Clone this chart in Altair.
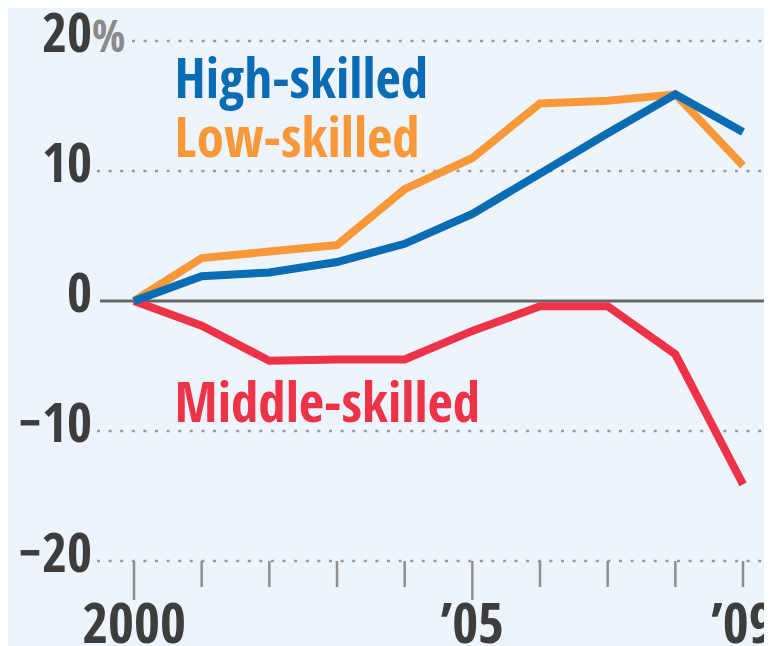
import altair as alt
import pandas as pd

years = [2000, 2001, 2002, 2003, 2004, 2005, 2006, 2007, 2008, 2009]
high_skilled = [0, 1.9, 2.2, 3.0, 4.4, 6.7, 9.8, 12.9, 15.9, 13.0]
low_skilled = [0, 3.3, 3.8, 4.3, 8.6, 11.0, 15.2, 15.4, 15.9, 10.4]
middle_skilled = [0, -1.9, -4.6, -4.5, -4.5, -2.3, -0.4, -0.4, -4.1, -14.1]

series_names = ["Middle-skilled", "Low-skilled", "High-skilled"]
series_colors = ["#ee3248", "#f89838", "#0a6cb4"]

y_ticks = [20, 10, 0, -10, -20]
y_tick_labels = ["20", "10", "0", "\u221210", "\u221220"]
x_label_years = [2000, 2005, 2009]
x_labels = ["2000", "\u201905", "\u201909"]

# series label anchors (data units)
label_years = [2000.6, 2000.6, 2000.6]
label_values = [-9.3, 11.1, 15.65]

FONT = "Open Sans Condensed, Liberation Sans, sans-serif"
BG = "#eef4fc"
LABEL_COLOR = "#3d3d3d"

W, H = 667, 638
xs = alt.Scale(domain=[1999.453, 2009.31], nice=False, zero=False)
ys = alt.Scale(domain=[-26.538, 22.538], nice=False, zero=False)

rows = []
for name, vals in zip(["High-skilled", "Low-skilled", "Middle-skilled"],
                      [high_skilled, low_skilled, middle_skilled]):
    for yr, v in zip(years, vals):
        rows.append({"year": yr, "value": v, "series": name})
df = pd.DataFrame(rows)

grid_df = pd.DataFrame({"v": [10, -10, -20]})
top_df = pd.DataFrame({"v": [20]})
zero_df = pd.DataFrame({"v": [0]})

grid = alt.Chart(grid_df).mark_rule(color="#9a9a9a", strokeWidth=2.5, strokeDash=[3, 8.6]).encode(
    y=alt.Y("v:Q", scale=ys, axis=None), x=alt.value(0), x2=alt.value(W))
grid_top = alt.Chart(top_df).mark_rule(color="#9a9a9a", strokeWidth=2.5, strokeDash=[3, 8.6]).encode(
    y=alt.Y("v:Q", scale=ys, axis=None), x=alt.value(35), x2=alt.value(W))
zero = alt.Chart(zero_df).mark_rule(color="#666666", strokeWidth=3).encode(
    y=alt.Y("v:Q", scale=ys, axis=None), x=alt.value(3), x2=alt.value(W))

ylab_df = pd.DataFrame({"v": y_ticks, "t": y_tick_labels})
ylabels = alt.Chart(ylab_df).mark_text(font=FONT, fontSize=54, color=LABEL_COLOR,
                                        align="right", baseline="alphabetic", dy=11).encode(
    y=alt.Y("v:Q", scale=ys, axis=None), x=alt.value(-5), text="t:N")
pct = alt.Chart(top_df).mark_text(font=FONT, fontSize=44, color="#8a8a8a",
                                   align="left", baseline="alphabetic", dy=11, text="%").encode(
    y=alt.Y("v:Q", scale=ys, axis=None), x=alt.value(-5))

tick_df = pd.DataFrame({"year": years,
                        "major": [y in x_label_years[:2] for y in years],
                        "base": [y_ticks[-1]] * len(years)})
ticks_minor = alt.Chart(tick_df).transform_filter("!datum.major").mark_rule(
    color="#8f8f8f", strokeWidth=2.5).encode(
    x=alt.X("year:Q", scale=xs, axis=None),
    y=alt.Y("base:Q", scale=ys, axis=None), y2=alt.value(579))
ticks_major = alt.Chart(tick_df).transform_filter("datum.major").mark_rule(
    color="#8f8f8f", strokeWidth=2.5).encode(
    x=alt.X("year:Q", scale=xs, axis=None),
    y=alt.Y("base:Q", scale=ys, axis=None), y2=alt.value(592))

xlab_df = pd.DataFrame({"year": x_label_years, "t": x_labels})
xlabels = alt.Chart(xlab_df).mark_text(font=FONT, fontSize=56, color=LABEL_COLOR,
                                        align="center", baseline="alphabetic").encode(
    x=alt.X("year:Q", scale=xs, axis=None), y=alt.value(635), text="t:N")

color_scale = alt.Scale(domain=series_names, range=series_colors)

line_layers = []
for s in series_names:
    line_layers.append(
        alt.Chart(df).transform_filter(alt.datum.series == s).mark_line(
            strokeWidth=8, strokeJoin="miter", strokeCap="butt").encode(
            x=alt.X("year:Q", scale=xs, axis=None),
            y=alt.Y("value:Q", scale=ys, axis=None),
            color=alt.Color("series:N", scale=color_scale, legend=None),
            order=alt.Order("year:Q"),
        )
    )

lab_df = pd.DataFrame({"year": label_years, "value": label_values, "series": series_names})
series_labels = alt.Chart(lab_df).mark_text(font=FONT, fontSize=55, fontWeight="bold", align="left",
                                             baseline="alphabetic").encode(
    x=alt.X("year:Q", scale=xs, axis=None),
    y=alt.Y("value:Q", scale=ys, axis=None),
    text="series:N",
    color=alt.Color("series:N", scale=color_scale, legend=None),
)

chart = alt.layer(grid, grid_top, ylabels, pct, ticks_minor, ticks_major, xlabels, zero,
                  *line_layers, series_labels).properties(
    width=W, height=H,
    autosize=alt.AutoSizeParams(type="none"),
    padding={"left": 89, "top": 0, "right": 0, "bottom": 0},
    background=BG,
).configure_view(stroke=None, clip=False)

chart.save("out.html", embed_options={"renderer": "svg", "actions": False})
